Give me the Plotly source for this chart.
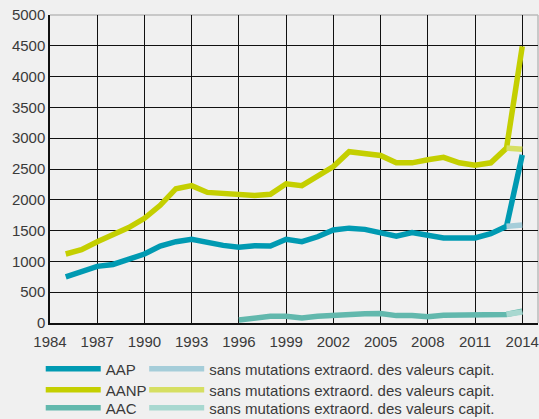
import plotly.graph_objects as go

years = list(range(1985, 2015))
aap = [750, 830, 920, 950, 1030, 1120, 1250, 1320, 1360, 1300, 1260, 1230, 1255, 1250,
       1360, 1320, 1400, 1510, 1540, 1520, 1470, 1410, 1470, 1430, 1380, 1380, 1380,
       1450, 1570, 2730]
aanp = [1120, 1190, 1320, 1430, 1550, 1700, 1910, 2180, 2230, 2120, 2100, 2070, 2070, 2090,
        2260, 2230, 2380, 2540, 2780, 2750, 2720, 2600, 2600, 2650, 2690, 2600, 2560,
        2600, 2840, 4490]
aac_years = list(range(1996, 2015))
aac = [50, 90, 110, 110, 80, 110, 130, 130, 150, 155, 120, 120, 100, 125, 125, 125,
       125, 140, 190]
sans_years = [2013, 2014]
aap_sans = [1570, 1590]
aanp_sans = [2840, 2820]
aac_sans = [140, 180]

x_ticks = list(range(1984, 2015, 3))
y_ticks = list(range(0, 5001, 500))

c_aap, c_aap_s = "#009ab2", "#a5cdd9"
c_aanp, c_aanp_s = "#c4cf00", "#d6df62"
c_aac, c_aac_s = "#62b8ad", "#a8d8d0"
lw = 5.5
sans = "sans mutations extraord. des valeurs capit."

legend_keys = ["legend2", "legend3", "legend4", "legend5", "legend6", "legend7"]

fig = go.Figure()
series = [
    (years, aap, "AAP", c_aap),
    (sans_years, aap_sans, sans, c_aap_s),
    (years, aanp, "AANP", c_aanp),
    (sans_years, aanp_sans, sans, c_aanp_s),
    (aac_years, aac, "AAC", c_aac),
    (sans_years, aac_sans, sans, c_aac_s),
]
for (xs, ys, nm, col), lg in zip(series, legend_keys):
    fig.add_trace(go.Scatter(x=xs, y=ys, mode="lines", name=nm, showlegend=True,
                             line=dict(color=col, width=lw), legend=lg))

font = dict(family="Liberation Sans, Arial, sans-serif", size=15, color="#3a3a3a")
leg_common = dict(orientation="h", xanchor="left", yanchor="middle",
                  bgcolor="rgba(0,0,0,0)", borderwidth=0, itemwidth=55,
                  itemclick=False, itemdoubleclick=False, font=font)
col_x = [-0.019, 0.193]
row_y = [-0.149, -0.2175, -0.276]
legends = {}
for i, key in enumerate(legend_keys):
    legends[key] = dict(**leg_common, x=col_x[i % 2], y=row_y[i // 2])

fig.update_layout(
    template="none",
    width=539, height=419,
    margin=dict(l=50, r=1, t=15, b=96, autoexpand=False),
    paper_bgcolor="#f0f0f0", plot_bgcolor="#f0f0f0",
    font=font,
    hovermode=False,
    **legends,
    xaxis=dict(range=[1984, 2015], tickvals=x_ticks, showgrid=True,
               gridcolor="#111111", gridwidth=1, showline=True,
               linecolor="#111111", linewidth=1.5, zeroline=False,
               ticks="", tickfont=font, automargin=False, ticklabelstandoff=4),
    yaxis=dict(range=[0, 5000], tickvals=y_ticks, showgrid=True,
               gridcolor="#111111", gridwidth=1, showline=True,
               linecolor="#111111", linewidth=1.5, zeroline=False,
               ticks="", tickfont=font, automargin=False),
)
fig.add_shape(type="line", xref="paper", yref="paper", x0=0, x1=1, y0=1, y1=1,
              line=dict(color="#bbbbbb", width=1.5), layer="below")
fig.add_shape(type="line", xref="paper", yref="paper", x0=1, x1=1, y0=0, y1=1,
              line=dict(color="#bbbbbb", width=1.5), layer="below")

fig.write_html("out.html", config={"displayModeBar": False},
               post_script="document.body.style.margin='0';document.body.style.background='#f0f0f0';")
